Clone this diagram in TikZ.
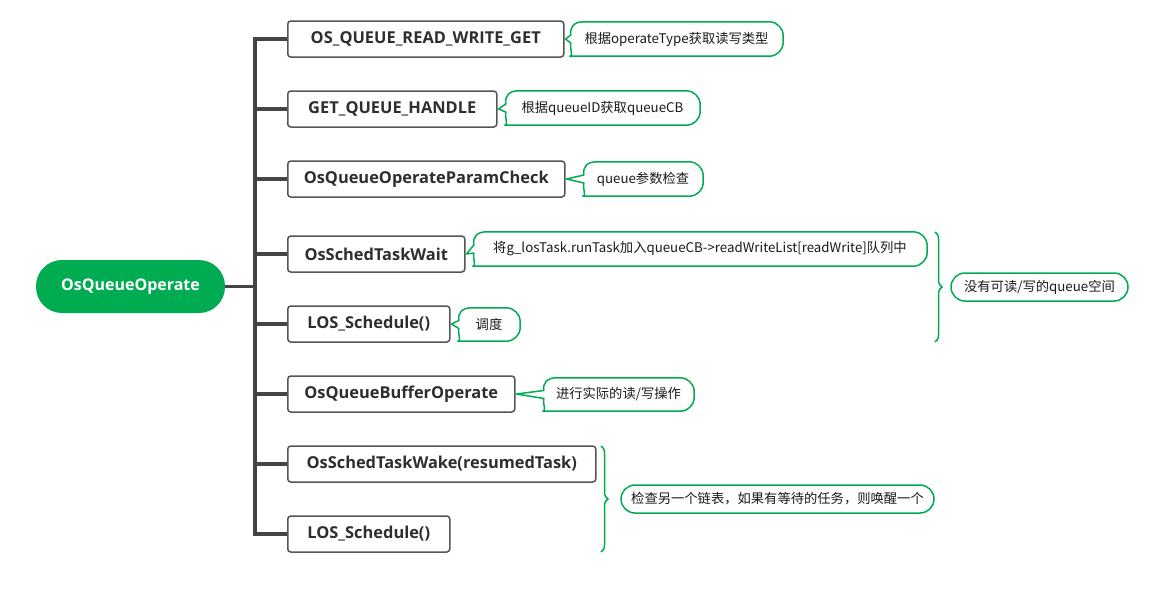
\documentclass[tikz,border=0pt]{standalone}
\usepackage{fontspec}
\setmainfont{Open Sans}
\newfontfamily\cjk{Noto Sans CJK SC}
\usetikzlibrary{calc,decorations.pathreplacing}
\definecolor{mmgreen}{HTML}{00AC52}
\definecolor{trunkgray}{HTML}{454545}
\definecolor{boxgray}{HTML}{555555}
\definecolor{txtdark}{HTML}{2E2E2E}
\tikzset{
  trunk/.style={draw=trunkgray, line width=3.2pt},
  rootnode/.style={fill=mmgreen, rounded corners=26pt, minimum width=189pt, minimum height=53pt, inner sep=0pt, text=white, font=\fontsize{16}{18}\selectfont\bfseries},
  stepbox/.style={draw=boxgray, line width=1.5pt, rounded corners=3pt, fill=white, minimum height=36pt, anchor=west, inner sep=0pt, text=txtdark, font=\fontsize{16.4}{18}\selectfont\bfseries},
  note/.style={minimum height=34pt, inner sep=0pt, text=black!90, font=\cjk\fontsize{13.3}{15}\selectfont},
  callline/.style={draw=mmgreen, line width=1.5pt, line join=round},
  summ/.style={draw=mmgreen, line width=1.5pt, rounded corners=14pt, minimum height=28pt, inner sep=0pt, text=black!90, font=\cjk\fontsize{13.3}{15}\selectfont},
  bracestyle/.style={draw=mmgreen, line width=1.5pt, decorate, decoration={brace, amplitude=7pt}},
}
\newcommand\calloutline[2]{%
  \draw[callline] let \p1=(#1.north west), \p2=(#1.south east), \p3=(#2.east), \n1={(\y1+\y2)/2} in
    (\x3+1pt,\y3) -- (\x1+1pt,\n1+4pt)
    .. controls (\x1,\y1-5pt) and (\x1+4pt,\y1) .. (\x1+14pt,\y1)
    [rounded corners=14pt] -- (\x2,\y1) -- (\x2,\y2) -- (\x1+14pt,\y2) [sharp corners]
    .. controls (\x1+4pt,\y2) and (\x1,\y2+5pt) .. (\x1+1pt,\n1-4pt) -- cycle;
}
\begin{document}
\begin{tikzpicture}[x=1pt,y=-1pt]
\useasboundingbox (0,0) rectangle (1163,590);
% root
\node[rootnode] (root) at (130.5,286.5) {OsQueueOperate};
% steps
\node[stepbox, minimum width=276pt] (b1) at (287,39) {OS\_QUEUE\_READ\_WRITE\_GET};
\node[stepbox, minimum width=209pt] (b2) at (287,109) {GET\_QUEUE\_HANDLE};
\node[stepbox, minimum width=277pt] (b3) at (287,179) {OsQueueOperateParamCheck};
\node[stepbox, minimum width=177pt] (b4) at (287,254) {OsSchedTaskWait};
\node[stepbox, minimum width=162pt] (b5) at (287,324) {LOS\_Schedule()};
\node[stepbox, minimum width=227pt] (b6) at (287,394) {OsQueueBufferOperate};
\node[stepbox, minimum width=308pt] (b7) at (287,464) {OsSchedTaskWake(resumedTask)};
\node[stepbox, minimum width=162pt] (b8) at (287,534) {LOS\_Schedule()};
% trunk and branches
\coordinate (t) at (255,0);
\draw[trunk, line cap=rect] (t |- b1.west) -- (t |- b8.west);
\draw[trunk] (root.east) -- (t |- root.east);
\foreach \b in {b1,b2,b3,b4,b5,b6,b7,b8}{
  \draw[trunk] (t |- \b.west) -- (\b.west);
}
% callouts
\node[note, minimum width=213pt] (c1) at (676.5,39) {根据operateType获取读写类型};
\node[note, minimum width=195pt] (c2) at (602.5,108) {根据queueID获取queueCB};
\node[note, minimum width=120pt] (c3) at (643,179) {queue参数检查};
\node[note, minimum width=454pt] (c4) at (700,249) {将g\_losTask.runTask加入queueCB->readWriteList[readWrite]队列中};
\node[note, minimum width=62pt, minimum height=33pt] (c5) at (489,324.5) {调度};
\node[note, minimum width=151pt, minimum height=33pt] (c6) at (618.5,394.5) {进行实际的读/写操作};
\calloutline{c1}{b1}
\calloutline{c2}{b2}
\calloutline{c3}{b3}
\calloutline{c4}{b4}
\calloutline{c5}{b5}
\calloutline{c6}{b6}
% summaries
\coordinate (br1a) at (935,232);
\coordinate (br1b) at (935,342);
\draw[bracestyle] (br1a) -- (br1b);
\node[summ, minimum width=177pt] (s1) at (1039.5,287) {没有可读/写的queue空间};
\coordinate (br2a) at (601,446);
\coordinate (br2b) at (601,552);
\draw[bracestyle] (br2a) -- (br2b);
\node[summ, minimum width=313pt] (s2) at (777.5,499) {检查另一个链表，如果有等待的任务，则唤醒一个};
\end{tikzpicture}
\end{document}
